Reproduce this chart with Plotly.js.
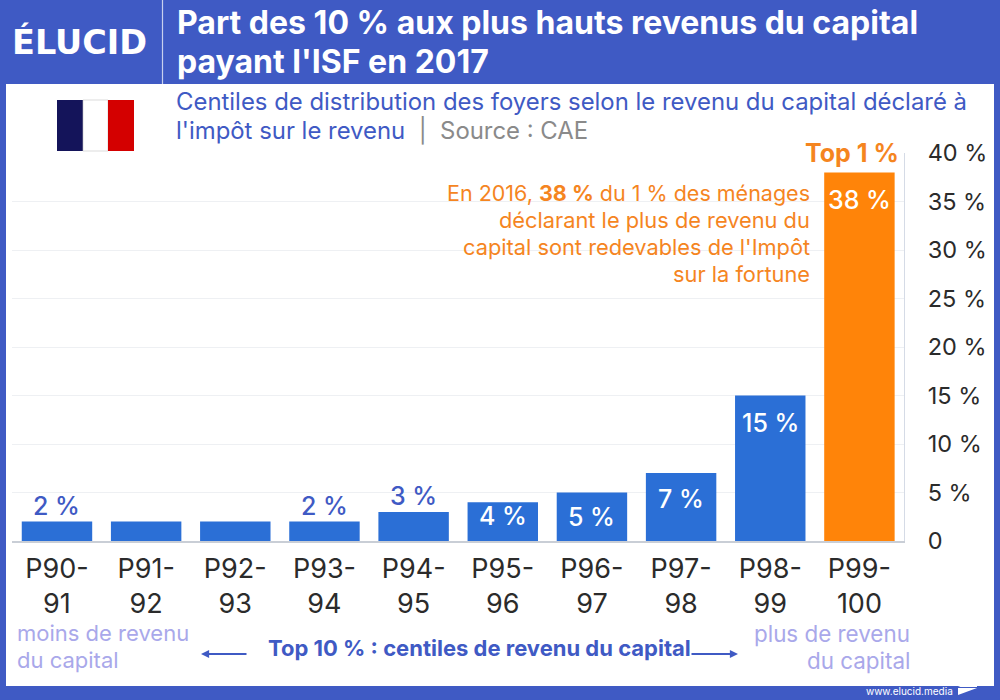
<!DOCTYPE html>
<html><head><meta charset="utf-8">
<script src="https://cdn.plot.ly/plotly-3.0.1.min.js"></script>
<style>html,body{margin:0;padding:0;background:#3f5ac4}#c{width:1000px;height:700px}</style>
</head><body><div id="c"></div>
<script>
const categories = ["P90-<br>91","P91-<br>92","P92-<br>93","P93-<br>94","P94-<br>95","P95-<br>96","P96-<br>97","P97-<br>98","P98-<br>99","P99-<br>100"];
const values = [2,2,2,2,3,4,5,7,15,38];
const barLabels = ["2 %","","","2 %","3 %","4 %","5 %","7 %","15 %","38 %"];
const labelOffsets = [16,0,0,16,16,-14,-24,-26,-27,-28];
const labelColors = ["#3f5ac4","","","#3f5ac4","#3f5ac4","#ffffff","#ffffff","#ffffff","#ffffff","#ffffff"];
const barColors = ["#2b6fd6","#2b6fd6","#2b6fd6","#2b6fd6","#2b6fd6","#2b6fd6","#2b6fd6","#2b6fd6","#2b6fd6","#ff8409"];
const tickValues = [0,5,10,15,20,25,30,35,40];
const tickLabels = ["0","5 %","10 %","15 %","20 %","25 %","30 %","35 %","40 %"];
const BLUE="#3f5ac4", LILAC="#a9a8ea", ORANGE="#f5851f", F="Inter, 'Open Sans', sans-serif";
const px=(x)=>x/1000, py=(y)=>1-y/700;
const T=(x,y,text,size,color,anchor,extra)=>Object.assign({xref:"paper",yref:"paper",x:px(x),y:py(y),text,showarrow:false,
  xanchor:anchor||"left",yanchor:"middle",align:anchor||"left",font:{family:F,size,color}},extra||{});
const R=(x0,y0,x1,y1,fill,extra)=>Object.assign({type:"rect",xref:"paper",yref:"paper",x0:px(x0),x1:px(x1),y0:py(y0),y1:py(y1),
  fillcolor:fill,line:{width:0},layer:"below"},extra||{});
const arrow=(x0,x1,y)=>({xref:"paper",yref:"paper",x:px(x1),y:py(y),ax:x0-x1,ay:0,axref:"pixel",ayref:"pixel",text:"",showarrow:true,
  arrowhead:2,arrowsize:0.9,arrowwidth:1.8,arrowcolor:BLUE});
const data=[{type:"bar",x:categories,y:values,marker:{color:barColors,line:{width:0}},width:0.79,hoverinfo:"skip"}];
const barAnnotations=barLabels.map((t,i)=>t?{xref:"x",yref:"y",x:categories[i],y:values[i],text:t,showarrow:false,yanchor:"middle",yshift:labelOffsets[i],
  font:{family:F,size:25,color:labelColors[i],weight:500}}:null).filter(Boolean);
const layout={width:1000,height:700,margin:{l:0,r:0,t:0,b:0},paper_bgcolor:BLUE,plot_bgcolor:"rgba(0,0,0,0)",showlegend:false,
  bargap:0.21,
  xaxis:{domain:[0.0124,0.904],type:"category",tickmode:"array",tickvals:categories,ticktext:categories,automargin:false,
    tickfont:{family:F,size:27,color:"#2b2b2b"},ticks:"outside",ticklen:3,tickcolor:"rgba(0,0,0,0)",showgrid:false,zeroline:false,showline:true,linecolor:"#c9ced6",linewidth:1.5,fixedrange:true},
  yaxis:{domain:[1-541/700,1-153/700],range:[0,40],side:"right",anchor:"x",tickmode:"array",tickvals:tickValues,ticktext:tickLabels,automargin:false,
    tickfont:{family:F,size:23.5,color:"#2b2b2b"},ticks:"outside",ticklen:18,tickcolor:"rgba(0,0,0,0)",showgrid:true,gridcolor:"#eef0f3",gridwidth:1,zeroline:false,
    showline:true,linecolor:"#d5dbe6",linewidth:1,fixedrange:true},
  shapes:[
    R(6,84,994,686,"#ffffff"),
    {type:"line",xref:"paper",yref:"paper",x0:px(162.5),x1:px(162.5),y0:py(0),y1:py(84),line:{color:"#c8d0ee",width:1.2},layer:"below"},
    R(57,100,83,151,"#14145a"),R(83,100,108,151,"#ffffff",{line:{width:0.6,color:"#c4c4c4"}}),R(108,100,134,151,"#d40000")
  ],
  annotations:[
    T(10,42,"<b>ÉLUCID</b>",33.5,"#ffffff","left",{font:{family:"'DejaVu Sans', sans-serif",size:33.5,color:"#ffffff"}}),
    T(175,23,"<b>Part des 10 % aux plus hauts revenus du capital</b>",32,"#ffffff"),
    T(175,62,"<b>payant l'ISF en 2017</b>",32,"#ffffff"),
    T(174,101,"Centiles de distribution des foyers selon le revenu du capital déclaré à",23.9,BLUE),
    T(174,130,"l'impôt sur le revenu \u00a0<span style='color:#8a8a8a'>|\u00a0 Source : CAE</span>",23.9,BLUE),
    T(901,153,"<b>Top 1 %</b>",25,ORANGE,"right"),
    T(812,193,"En 2016, <b>38 %</b> du 1 % des ménages",21.5,ORANGE,"right"),
    T(812,220,"déclarant le plus de revenu du",21.8,ORANGE,"right"),
    T(812,247,"capital sont redevables de l'Impôt",21.8,ORANGE,"right"),
    T(812,274,"sur la fortune",21.8,ORANGE,"right"),
    T(15,633,"moins de revenu",22,LILAC),
    T(15,660,"du capital",22,LILAC),
    T(912,633,"plus de revenu",22.4,LILAC,"right"),
    T(912,660,"du capital",22.4,LILAC,"right"),
    T(266,648,"<b>Top 10 % : centiles de revenu du capital</b>",22,BLUE),
    arrow(248,201,654),arrow(690,738,654),
    T(864,691,"www.elucid.media",10,"#ffffff"),
    ...barAnnotations
  ]
};
layout.shapes.push({type:"path",xref:"paper",yref:"paper",
  path:`M ${px(958)} ${py(687)} L ${px(977)} ${py(679)} L ${px(977)} ${py(687)} Z`,fillcolor:"#ffffff",line:{width:0}});
layout.shapes.push({type:"path",xref:"paper",yref:"paper",
  path:`M ${px(958)} ${py(695)} L ${px(977)} ${py(688)} L ${px(958)} ${py(688)} Z`,fillcolor:"#ffffff",line:{width:0}});
Plotly.newPlot("c",data,layout,{displayModeBar:false,staticPlot:true});
</script></body></html>
